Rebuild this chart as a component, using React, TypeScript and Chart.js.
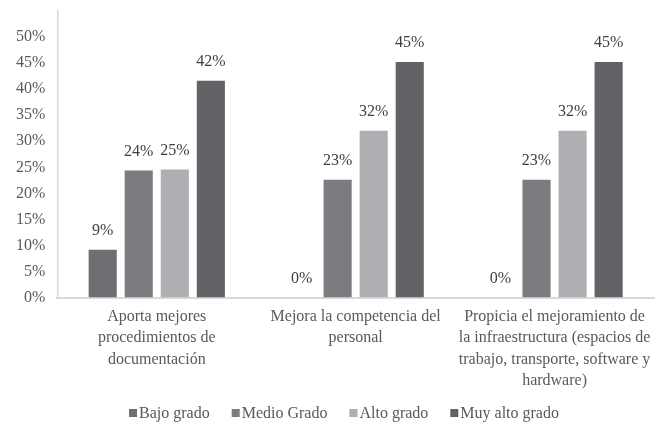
import React, { useEffect, useRef } from "react";
import { Chart, registerables } from "chart.js";

Chart.register(...registerables);

const categories: string[][] = [
  ["Aporta mejores", "procedimientos de", "documentación"],
  ["Mejora la competencia del", "personal"],
  [
    "Propicia el mejoramiento de",
    "la infraestructura (espacios de",
    "trabajo, transporte, software y",
    "hardware)",
  ],
];
const seriesNames = ["Bajo grado", "Medio Grado", "Alto grado", "Muy alto grado"];
const bajoGrado = [9.2, 0, 0];
const medioGrado = [24.4, 22.6, 22.6];
const altoGrado = [24.6, 32, 32];
const muyAltoGrado = [41.6, 45.2, 45.2];
const seriesColors = ["#6e6e73", "#7b7b80", "#afafb3", "#636367"];
const yMax = 55;
const yStep = 5;
const yLabelMax = 50;

const FONT = '"Liberation Serif", "Times New Roman", serif';

const dataLabelPlugin = {
  id: "dataLabels",
  afterDatasetsDraw(chart: any) {
    const ctx = chart.ctx;
    ctx.save();
    ctx.font = `16px ${FONT}`;
    ctx.fillStyle = "#404040";
    ctx.textAlign = "center";
    ctx.textBaseline = "middle";
    chart.data.datasets.forEach((ds: any, i: number) => {
      const meta = chart.getDatasetMeta(i);
      meta.data.forEach((el: any, j: number) => {
        const v = ds.data[j];
        ctx.fillText(`${Math.round(v)}%`, el.x, el.y - 19);
      });
    });
    ctx.restore();
  },
};

const legendPlugin = {
  id: "customLegend",
  afterDraw(chart: any) {
    const ctx = chart.ctx;
    ctx.save();
    ctx.font = `16px ${FONT}`;
    ctx.textBaseline = "middle";
    ctx.textAlign = "left";
    const box = 8;
    const gap = 2;
    const itemGap = 22;
    const widths = seriesNames.map((n) => box + gap + ctx.measureText(n).width);
    const total = widths.reduce((a, b) => a + b, 0) + itemGap * (widths.length - 1);
    let x = chart.width / 2 + 13 - total / 2;
    const y = chart.height - 13;
    seriesNames.forEach((n, i) => {
      ctx.fillStyle = seriesColors[i];
      ctx.fillRect(x, y - box / 2, box, box);
      ctx.fillStyle = "#595959";
      ctx.fillText(n, x + box + gap, y + 1);
      x += widths[i] + itemGap;
    });
    ctx.restore();
  },
};

export default function App() {
  const ref = useRef<HTMLCanvasElement | null>(null);
  useEffect(() => {
    document.body.style.margin = "0";
    const canvas = ref.current;
    if (!canvas) return;
    const values = [bajoGrado, medioGrado, altoGrado, muyAltoGrado];
    const chart = new Chart(canvas, {
      type: "bar",
      data: {
        labels: categories,
        datasets: seriesNames.map((name, i) => ({
          label: name,
          data: values[i],
          backgroundColor: seriesColors[i],
          barPercentage: 0.78,
          categoryPercentage: 0.725,
        })),
      },
      options: {
        responsive: false,
        animation: false,
        layout: { padding: { left: 4, right: 8, top: 11, bottom: 26 } },
        plugins: {
          legend: { display: false },
          tooltip: { enabled: false },
        },
        scales: {
          x: {
            grid: { display: false, drawTicks: false },
            border: { display: true, color: "#d9d9d9", width: 2 },
            ticks: {
              color: "#595959",
              font: { family: FONT, size: 16, lineHeight: 1.35 },
              padding: 8,
              maxRotation: 0,
              autoSkip: false,
            },
          },
          y: {
            min: 0,
            max: yMax,
            afterFit: (scale: any) => {
              scale.paddingTop = 0;
            },
            grid: { display: false, drawTicks: false },
            border: { display: true, color: "#d9d9d9", width: 1.5 },
            ticks: {
              stepSize: yStep,
              color: "#595959",
              font: { family: FONT, size: 16 },
              padding: 12,
              callback: (v: any) => (Number(v) > yLabelMax ? "" : `${v}%`),
            },
          },
        },
      },
      plugins: [dataLabelPlugin, legendPlugin],
    });
    return () => chart.destroy();
  }, []);
  return (
    <div style={{ width: 662, height: 426, background: "#fff" }}>
      <canvas ref={ref} width={662} height={426} />
    </div>
  );
}
